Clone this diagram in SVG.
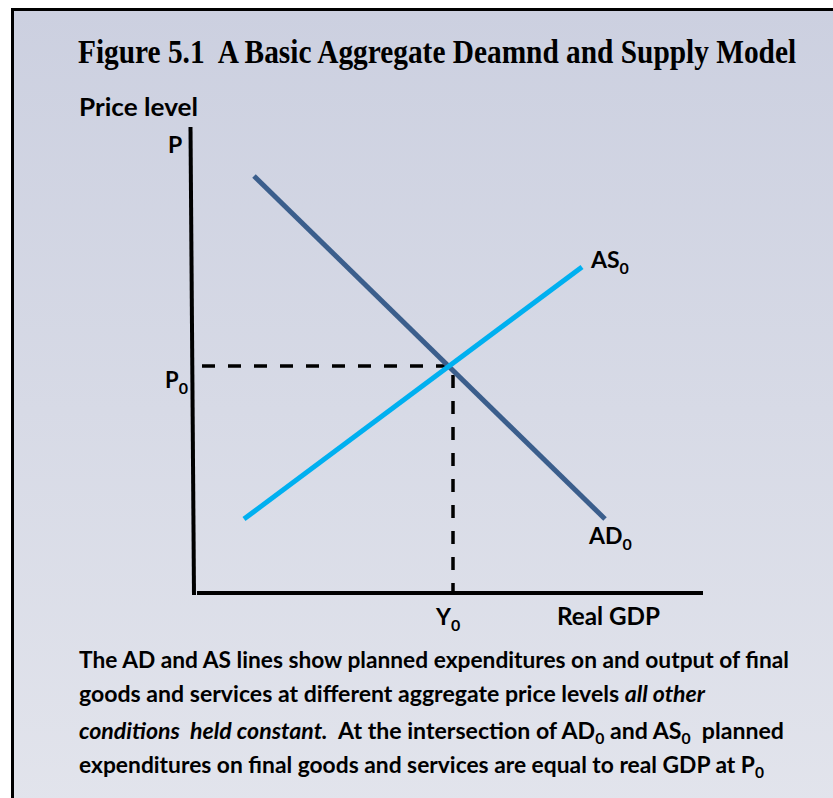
<svg xmlns="http://www.w3.org/2000/svg" width="833" height="798" viewBox="0 0 833 798">
<defs>
<linearGradient id="bg" x1="0" y1="0" x2="0" y2="1">
<stop offset="0" stop-color="#ccd0e0"/>
<stop offset="1" stop-color="#e2e4ec"/>
</linearGradient>
</defs>
<style>
.lbl{font-family:Lato,"Liberation Sans",sans-serif;font-weight:bold;fill:#000;}
.title{font-family:"Liberation Serif","Times New Roman",serif;font-weight:bold;fill:#000;}
.body{font-family:Lato,"Liberation Sans",sans-serif;font-weight:bold;font-size:22px;fill:#000;}
.axis{stroke:#000;stroke-width:4;fill:none;}
.dash{stroke:#000;stroke-width:3.5;stroke-dasharray:13 13;fill:none;}
</style>
<rect x="0" y="0" width="833" height="798" fill="#fff"/>
<rect x="12.5" y="9.5" width="830" height="800" fill="url(#bg)" stroke="#000" stroke-width="3"/>
<g id="title" transform="translate(78,63) scale(0.89,1)">
<text class="title" x="0" y="0" font-size="33">Figure 5.1&#160; A Basic Aggregate Deamnd and Supply Model</text>
</g>
<g id="axes">
<text class="lbl" x="79" y="116" font-size="24" textLength="119" lengthAdjust="spacingAndGlyphs">Price level</text>
<line class="axis" x1="190.5" y1="127" x2="194" y2="595"/>
<line class="axis" x1="197" y1="593" x2="703" y2="593"/>
<text class="lbl" x="168" y="153" font-size="23">P</text>
<text class="lbl" x="557" y="625" font-size="24" textLength="103" lengthAdjust="spacingAndGlyphs">Real GDP</text>
</g>
<g id="connectors">
<path class="dash" d="M202 366 H453 V591"/>
<line x1="254" y1="176" x2="605" y2="519" stroke="#3b5e8c" stroke-width="5"/>
<line x1="244" y1="519" x2="582" y2="267" stroke="#00b0f0" stroke-width="5"/>
</g>
<g id="labels">
<text class="lbl" x="165" y="388" font-size="22">P<tspan font-size="16" dy="6">0</tspan></text>
<text class="lbl" x="436" y="625" font-size="23">Y<tspan font-size="16" dy="6">0</tspan></text>
<text class="lbl" x="591" y="268" font-size="23">AS<tspan font-size="16" dy="6">0</tspan></text>
<text class="lbl" x="589" y="544" font-size="23">AD<tspan font-size="16" dy="6">0</tspan></text>
</g>
<g id="caption">
<text class="body" x="79" y="668" textLength="710" lengthAdjust="spacingAndGlyphs">The AD and AS lines show planned expenditures on and output of final</text>
<text class="body" x="79" y="702" textLength="626" lengthAdjust="spacingAndGlyphs">goods and services at different aggregate price levels <tspan font-style="italic">all other</tspan></text>
<text class="body" x="79" y="739" textLength="705" lengthAdjust="spacingAndGlyphs"><tspan font-style="italic">conditions&#160; held constant.</tspan>&#160; At the intersection of AD<tspan font-size="15" dy="5">0</tspan><tspan dy="-5"> and AS</tspan><tspan font-size="15" dy="5">0</tspan><tspan dy="-5">&#160; planned</tspan></text>
<text class="body" x="79" y="773" textLength="685" lengthAdjust="spacingAndGlyphs">expenditures on final goods and services are equal to real GDP at P<tspan font-size="15" dy="5">0</tspan></text>
</g>
</svg>
